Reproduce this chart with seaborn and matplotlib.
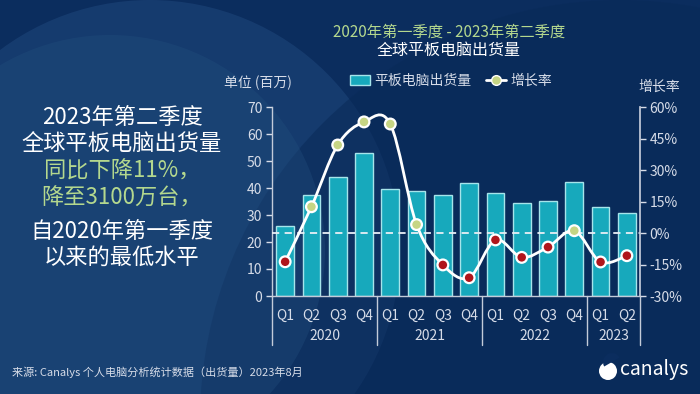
import numpy as np
import pandas as pd
import matplotlib
matplotlib.use("Agg")
import matplotlib.pyplot as plt
import seaborn as sns
from matplotlib.path import Path
from matplotlib.patches import PathPatch, Circle, Rectangle, Wedge
from matplotlib.lines import Line2D
from matplotlib.patches import Patch

# Data
years = ["2020", "2021", "2022", "2023"]
quarters = ["Q1", "Q2", "Q3", "Q4", "Q1", "Q2", "Q3", "Q4",
            "Q1", "Q2", "Q3", "Q4", "Q1", "Q2"]
periods = ["2020 Q1", "2020 Q2", "2020 Q3", "2020 Q4",
           "2021 Q1", "2021 Q2", "2021 Q3", "2021 Q4",
           "2022 Q1", "2022 Q2", "2022 Q3", "2022 Q4",
           "2023 Q1", "2023 Q2"]
shipments = [25.9, 37.3, 44.2, 52.8, 39.5, 38.8, 37.4, 41.8,
             38.3, 34.3, 35.1, 42.1, 33.1, 30.9]
growth = [-13.7, 12.5, 41.9, 52.9, 51.9, 4.0, -15.2, -21.3,
          -3.3, -11.6, -6.7, 1.1, -13.8, -10.8]
year_quarters = [4, 4, 4, 2]

BG = "#0b2d5e"
TEAL = "#17a9bc"
TEAL_EDGE = "#a6e4ea"
GREEN_TXT = "#b4d88e"
POS_DOT = "#c6d584"
NEG_DOT = "#b0151b"
TICK = "#d6dce8"

sns.set_theme(style="white")
plt.rcParams["font.family"] = ["Noto Sans CJK SC", "DejaVu Sans"]
plt.rcParams["axes.unicode_minus"] = False

W, H = 700, 394
fig = plt.figure(figsize=(7, 3.94), dpi=100, facecolor=BG)

# background in pixel coordinates
bg = fig.add_axes([0, 0, 1, 1], zorder=-10)
bg.set_xlim(0, W)
bg.set_ylim(H, 0)
bg.axis("off")
bg.add_patch(Rectangle((0, 0), W, H, color=BG))
bg.add_patch(Circle((150, 250), 250, color="#1f477c", alpha=0.55, lw=0))
bg.add_patch(Circle((620, 420), 420, color="#092a58", alpha=0.55, lw=0))
bg.add_patch(Circle((110, 250), 215, color="#23507f", alpha=0.35, lw=0))

# left summary text
left_lines = [("2023年第二季度", "white", 117),
              ("全球平板电脑出货量", "white", 144),
              ("同比下降11%，", GREEN_TXT, 171),
              ("降至3100万台，", GREEN_TXT, 198),
              ("自2020年第一季度", "white", 231),
              ("以来的最低水平", "white", 257)]
for txt, col, y in left_lines:
    bg.text(122, y, txt, color=col, fontsize=16, ha="center", va="center")

# titles
bg.text(449, 32, "2020年第一季度 - 2023年第二季度", color=GREEN_TXT,
        fontsize=11, ha="center", va="center")
bg.text(449, 50, "全球平板电脑出货量", color="white", fontsize=11.5,
        ha="center", va="center")
bg.text(258, 83, "单位 (百万)", color=TICK, fontsize=10, ha="center", va="center")
bg.text(659, 87, "增长率", color=TICK, fontsize=10, ha="center", va="center")

# footer
bg.text(12, 372, "来源: Canalys 个人电脑分析统计数据（出货量）2023年8月",
        color=TICK, fontsize=8, ha="left", va="center")
bg.add_patch(Circle((608, 371), 9, color="white", lw=0))
bg.add_patch(Wedge((612, 362), 9, 150, 330, color=BG, lw=0))
bg.text(620, 369, "canalys", color="white", fontsize=14, ha="left", va="center")

# main chart
ax = fig.add_axes([272 / W, 1 - 296 / H, 368 / W, 189 / H])
ax.set_facecolor("none")
df = pd.DataFrame({"period": periods, "shipments": shipments, "growth": growth})
sns.barplot(data=df, x="period", y="shipments", order=periods, color=TEAL,
            edgecolor=TEAL_EDGE, linewidth=1, width=0.67, saturation=1, ax=ax)
ax.set_xlim(-0.5, len(periods) - 0.5)
ax.set_ylim(0, 70)
ax.set_yticks(range(0, 71, 10))
ax.set_xticks(range(len(periods)))
ax.set_xticklabels(quarters)
ax.set_xlabel("")
ax.set_ylabel("")
ax.tick_params(axis="x", length=0, pad=9, colors=TICK, labelsize=10)
ax.tick_params(axis="y", length=4, width=1, direction="out", pad=3,
               colors=TICK, labelsize=10, left=True)
for s in ["top", "right"]:
    ax.spines[s].set_visible(False)
for s in ["left", "bottom"]:
    ax.spines[s].set_color("#c3cbd9")
    ax.spines[s].set_linewidth(1)

# year labels and group separators
edges = np.cumsum([0] + year_quarters) - 0.5
for i, yr in enumerate(years):
    ax.text((edges[i] + edges[i + 1]) / 2, -0.212, yr, color=TICK, fontsize=10,
            ha="center", va="center", transform=ax.get_xaxis_transform())
for e in edges:
    ax.plot([e, e], [0, -0.26], color="#c3cbd9", lw=1, clip_on=False,
            transform=ax.get_xaxis_transform())

# growth rate axis
ax2 = ax.twinx()
ax2.set_ylim(-30, 60)
ax2.set_yticks(range(-30, 61, 15))
ax2.set_yticklabels([f"{v}%" for v in range(-30, 61, 15)])
ax2.tick_params(axis="y", length=4, width=1, direction="out", pad=3,
                colors=TICK, labelsize=10, right=True)
for s in ["top", "left", "bottom"]:
    ax2.spines[s].set_visible(False)
ax2.spines["right"].set_color("#c3cbd9")
ax2.grid(False)
ax2.axhline(0, color="#e8eef5", lw=1.3, ls=(0, (4, 3)))

# smoothed growth line (cubic Bezier through the data points)
xs = np.arange(len(growth), dtype=float)
pts = np.column_stack([xs, growth])
verts = [tuple(pts[0])]
codes = [Path.MOVETO]
n = len(pts)
for i in range(n - 1):
    p0 = pts[max(i - 1, 0)]
    p1 = pts[i]
    p2 = pts[i + 1]
    p3 = pts[min(i + 2, n - 1)]
    c1 = p1 + (p2 - p0) / 6
    c2 = p2 - (p3 - p1) / 6
    verts += [tuple(c1), tuple(c2), tuple(p2)]
    codes += [Path.CURVE4] * 3
ax2.add_patch(PathPatch(Path(verts, codes), fc="none", ec="white", lw=2, zorder=3))

dot_colors = [POS_DOT if g >= 0 else NEG_DOT for g in growth]
ax2.scatter(xs, growth, s=60, c=dot_colors, edgecolors="white",
            linewidths=1.6, zorder=4)

# legend
handles = [Patch(facecolor=TEAL, edgecolor=TEAL_EDGE, label="平板电脑出货量"),
           Line2D([0], [0], color="white", lw=2, marker="o", markersize=7,
                  markerfacecolor=POS_DOT, markeredgecolor="white",
                  label="增长率")]
fig.legend(handles=handles, loc="center", bbox_to_anchor=(451 / W, 1 - 81 / H),
           ncol=2, frameon=False, fontsize=10, labelcolor=TICK,
           handlelength=1.4, handleheight=0.7, handletextpad=0.3,
           columnspacing=1.1)

fig.savefig("out.png", dpi=100, facecolor=BG)
